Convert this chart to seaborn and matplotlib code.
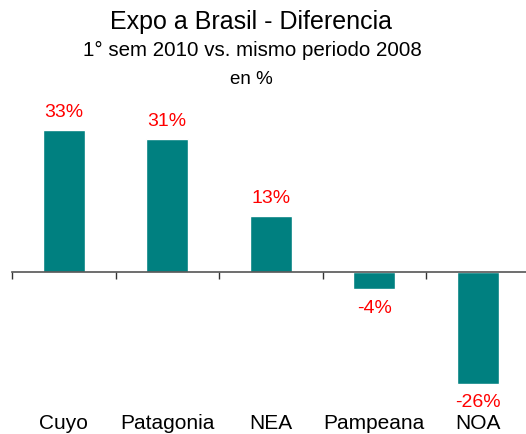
import matplotlib
matplotlib.use("Agg")
import matplotlib.pyplot as plt
import seaborn as sns
import pandas as pd
import matplotlib.transforms as mtransforms

categories = ["Cuyo", "Patagonia", "NEA", "Pampeana", "NOA"]
values = [33, 31, 13, -4, -26]
value_labels = ["33%", "31%", "13%", "-4%", "-26%"]

sns.set_theme(style="white")
plt.rcParams["font.family"] = ["Liberation Sans", "DejaVu Sans"]
plt.rcParams["text.color"] = "black"

W, H = 526, 435
fig = plt.figure(figsize=(W / 100, H / 100), dpi=100)
left, right, top, bottom = 12, 529.5, 100, 410
ax = fig.add_axes([left / W, 1 - bottom / H, (right - left) / W, (bottom - top) / H])

df = pd.DataFrame({"cat": categories, "val": values})
sns.barplot(data=df, x="cat", y="val", color="#008080", saturation=1, width=0.41, ax=ax)

ax.set_xlim(-0.5, 4.5)
ax.set_ylim(-31.9, 40.2)
ax.set_xlabel("")
ax.set_ylabel("")
ax.set_yticks([])

for s in ["top", "right", "left"]:
    ax.spines[s].set_visible(False)
ax.spines["bottom"].set_position(("data", 0))
ax.spines["bottom"].set_color("#555555")
ax.spines["bottom"].set_linewidth(1.2)

ax.set_xticks([-0.5, 0.5, 1.5, 2.5, 3.5, 4.5])
ax.set_xticklabels([])
ax.tick_params(axis="x", direction="out", length=5, width=1, color="#333333", bottom=True)

trans = mtransforms.blended_transform_factory(ax.transData, fig.transFigure)
for i, c in enumerate(categories):
    ax.text(i, 1 - 424 / H, c, transform=trans, ha="center", va="center", fontsize=15, color="black")

for i, (v, lab) in enumerate(zip(values, value_labels)):
    off = 13 if v >= 0 else -13
    ax.annotate(lab, (i, v), xytext=(0, off), textcoords="offset points",
                ha="center", va="center", color="red", fontsize=14)

fig.text(251 / W, 1 - 22 / H, "Expo a Brasil - Diferencia", ha="center", va="center", fontsize=18, color="black")
fig.text(252 / W, 1 - 50 / H, "1° sem 2010 vs. mismo periodo 2008", ha="center", va="center", fontsize=14.8, color="black")
fig.text(251 / W, 1 - 80 / H, "en %", ha="center", va="center", fontsize=13.5, color="black")

fig.savefig("out.png", dpi=100)
